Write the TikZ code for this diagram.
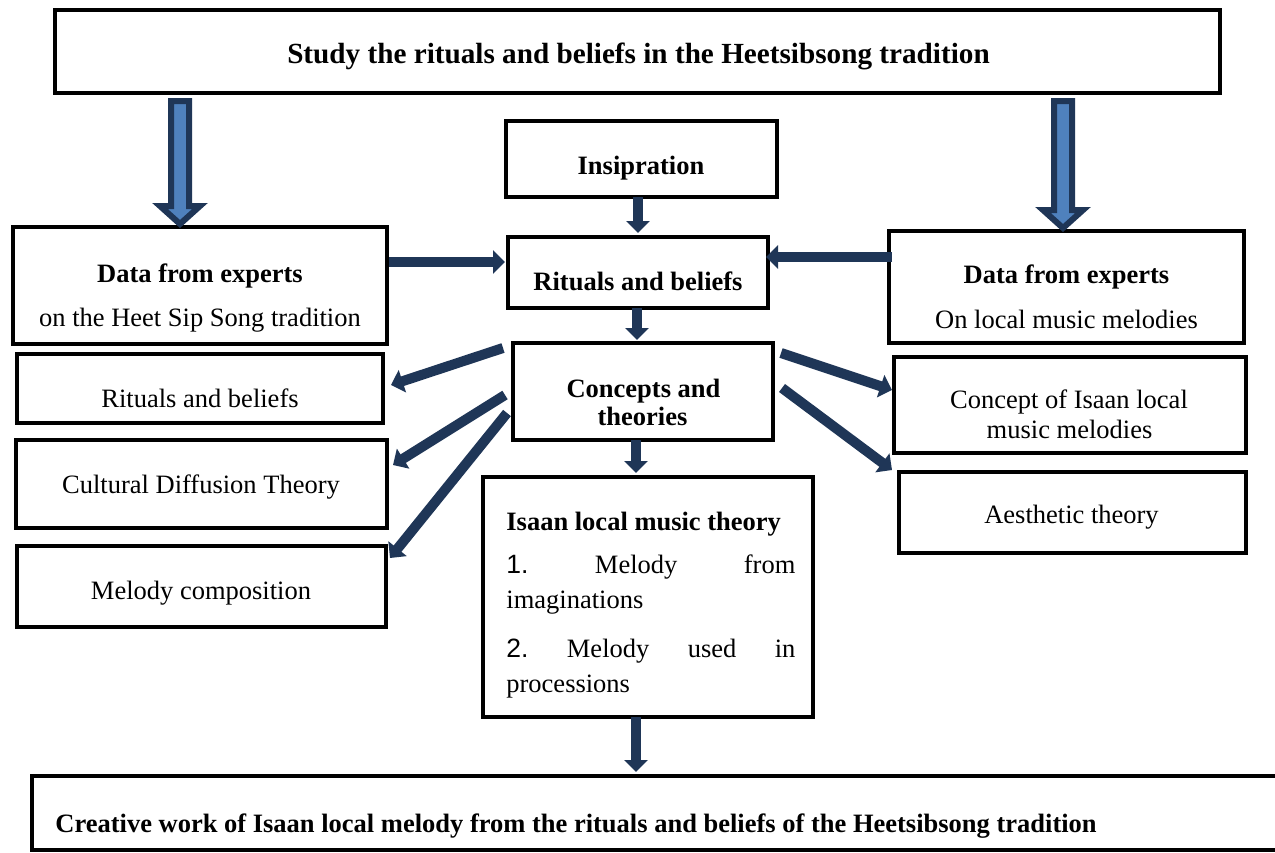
\documentclass[tikz,border=0pt]{standalone}
\usepackage{fontspec}
\setmainfont{Liberation Serif}
\newfontfamily\numfont{Liberation Sans}
\usetikzlibrary{fit,calc,arrows.meta}
\definecolor{arrdark}{HTML}{1F3657}
\definecolor{arrblue}{HTML}{4F81BD}
\begin{document}
\begin{tikzpicture}[x=0.5pt,y=-0.5pt,
 box/.style={draw=black,line width=2pt,inner sep=0pt,outer sep=0pt},
 txt/.style={anchor=base,inner sep=0pt,font=\fontsize{13.25}{15}\selectfont},
 btxt/.style={anchor=base,inner sep=0pt,font=\fontsize{13.25}{15}\selectfont\bfseries},
 arr/.style={draw=arrdark,line width=5pt,-{Triangle[width=11.5pt,length=6pt]}},
 bigarr/.style={fill=arrblue,draw=arrdark,line width=3pt,line join=miter}]
\useasboundingbox (0,0) rectangle (1275,852);
\fill[white] (0,0) rectangle (1275,852);

% boxes
\node[box,fit={(55,10)(1220,93)}] (top) {};
\node[box,fit={(506,121)(777,197)}] (insp) {};
\node[box,fit={(508,237)(768,308)}] (rit) {};
\node[box,fit={(13,227)(387,344)}] (ldata) {};
\node[box,fit={(889,231)(1244,343)}] (rdata) {};
\node[box,fit={(513,343)(773,440)}] (conc) {};
\node[box,fit={(17,354)(383,423)}] (lrit) {};
\node[box,fit={(16,440)(387,528)}] (cult) {};
\node[box,fit={(17,546)(386,627)}] (melc) {};
\node[box,fit={(894,357)(1246,453)}] (cisaan) {};
\node[box,fit={(899,472)(1246,553)}] (aest) {};
\node[box,fit={(483,477)(813,717)}] (isaan) {};
\node[box,fit={(32,776)(1300,850)}] (bot) {};

% texts
\node[btxt,font=\fontsize{14.6}{16}\selectfont\bfseries] (ttop) at (638.5,63) {Study the rituals and beliefs in the Heetsibsong tradition};
\node[btxt] (tinsp) at (641,174) {Insipration};
\node[btxt] (trit) at (638,290) {Rituals and beliefs};
\node[btxt] (tld1) at (200,282) {Data from experts};
\node[txt] (tld2) at (200,326) {on the Heet Sip Song tradition};
\node[btxt] (trd1) at (1066.5,283) {Data from experts};
\node[txt] (trd2) at (1066.5,328) {On local music melodies};
\node[btxt] (tc1) at (643.5,397) {Concepts and};
\node[btxt] (tc2) at (642.5,425) {theories};
\node[txt] (tlrit) at (200,407) {Rituals and beliefs};
\node[txt] (tcult) at (201,493) {Cultural Diffusion Theory};
\node[txt] (tmelc) at (201,599) {Melody composition};
\node[txt] (tci1) at (1069,408) {Concept of Isaan local};
\node[txt] (tci2) at (1069.5,438) {music melodies};
\node[txt] (taest) at (1071.5,523) {Aesthetic theory};
\node[btxt,anchor=base west] (ti0) at (506,530) {Isaan local music theory};
\node[txt,anchor=base west] (ti1) at (506,573) {\hbox to 144.5pt{{\numfont 1.}\hfill Melody\hfill from}};
\node[txt,anchor=base west] (ti2) at (506,608) {imaginations};
\node[txt,anchor=base west] (ti3) at (506,657) {\hbox to 144.5pt{{\numfont 2.}\hfill Melody\hfill used\hfill in}};
\node[txt,anchor=base west] (ti4) at (506,692) {processions};
\node[btxt,anchor=base west] (tbot) at (55,832) {Creative work of Isaan local melody from the rituals and beliefs of the Heetsibsong tradition};

% big arrows
\draw[bigarr] let \p1=([shift={(125,8)}]top.south west), \p2=([yshift=1.5pt]ldata.north) in
  (\x1-4.5pt,\y1) -- (\x1+4.5pt,\y1) -- (\x1+4.5pt,\y2+9pt) -- (\x1+10pt,\y2+9pt) -- (\x1,\y2)
  -- (\x1-10pt,\y2+9pt) -- (\x1-4.5pt,\y2+9pt) -- cycle;
\draw[bigarr] let \p1=([shift={(-157,8)}]top.south east), \p2=([yshift=1.5pt]rdata.north) in
  (\x1-4.5pt,\y1) -- (\x1+4.5pt,\y1) -- (\x1+4.5pt,\y2+9pt) -- (\x1+10pt,\y2+9pt) -- (\x1,\y2)
  -- (\x1-10pt,\y2+9pt) -- (\x1-4.5pt,\y2+9pt) -- cycle;

% small arrows
\draw[arr] ([shift={(-3.5,0)}]insp.south) -- ([shift={(0,-4)}]rit.north);
\draw[arr] ([shift={(-1,0)}]rit.south) -- ([shift={(-6,-3)}]conc.north);
\draw[arr] ([shift={(-7,0)}]conc.south) -- ([shift={(-12,-4)}]isaan.north);
\draw[arr] ([shift={(-12,0)}]isaan.south) -- ([shift={(-30,-4)}]bot.north);
\draw[arr] ([shift={(2,-23.5)}]ldata.east) -- ([shift={(-3,-10.5)}]rit.west);
\draw[arr] ([shift={(3,-30)}]rdata.west) -- ([shift={(-2,-15.5)}]rit.east);
\draw[arr] ([shift={(-10,5)}]conc.north west) -- ([shift={(8,-3.5)}]lrit.east);
\draw[arr] ([shift={(-8,3.5)}]conc.west) -- ([shift={(6,-19)}]cult.east);
\draw[arr] ([shift={(-6,21.5)}]conc.west) -- ([shift={(4,-28.5)}]melc.east);
\draw[arr] ([shift={(8,10)}]conc.north east) -- ([shift={(-2,-15)}]cisaan.west);
\draw[arr] ([shift={(9,-3.5)}]conc.east) -- ([shift={(-7,-2)}]aest.north west);
\end{tikzpicture}
\end{document}
